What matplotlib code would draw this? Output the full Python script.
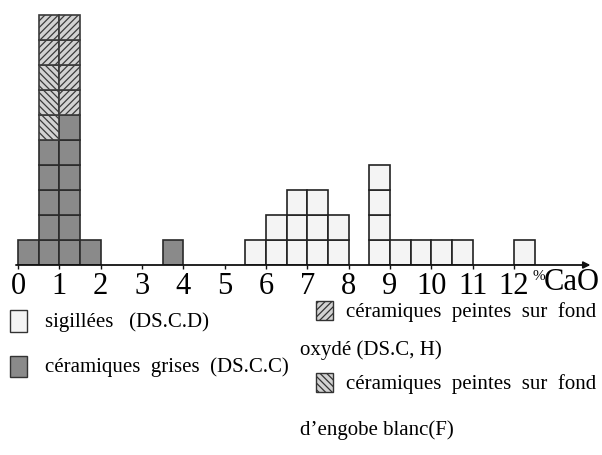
import numpy as np
import matplotlib.pyplot as plt
from matplotlib.patches import Rectangle

plt.rcParams['font.family'] = ['Liberation Serif', 'DejaVu Serif']
plt.rcParams['hatch.linewidth'] = 0.9

# CaO content classes (left edge, %), half-percent wide
bin_left = [0.0, 0.5, 1.0, 1.5, 3.5, 5.5, 6.0, 6.5, 7.0, 7.5, 8.5, 9.0, 9.5, 10.0, 10.5, 12.0]
# number of samples per class, stacked in this order
grises    = [1, 5, 6, 1, 1, 0, 0, 0, 0, 0, 0, 0, 0, 0, 0, 0]
engobe    = [0, 3, 0, 0, 0, 0, 0, 0, 0, 0, 0, 0, 0, 0, 0, 0]
oxyde     = [0, 2, 4, 0, 0, 0, 0, 0, 0, 0, 0, 0, 0, 0, 0, 0]
sigillees = [0, 0, 0, 0, 0, 1, 2, 3, 3, 2, 4, 1, 1, 1, 1, 1]

xticks = list(range(13))

W, H = 602, 456
fig = plt.figure(figsize=(W / 100, H / 100), dpi=100)

# histogram axes: one unit = 41.3 px, one sample = 25 px
x0_px, unit_px, row_px, base_px = 18, 41.33, 25, 266
ax = fig.add_axes([0, (H - base_px) / H, 1, base_px / H])
ax.set_xlim(-x0_px / unit_px, (W - x0_px) / unit_px)
ax.set_ylim(0, base_px / row_px)

dark = '#8a8a8a'
light = '#f4f4f4'
hatched = '#d2d2d2'
styles = [
    (grises, dict(facecolor=dark, edgecolor='#2a2a2a')),
    (engobe, dict(facecolor=hatched, edgecolor='#3a3a3a', hatch='\\\\\\\\\\')),
    (oxyde, dict(facecolor=hatched, edgecolor='#3a3a3a', hatch='/////')),
    (sigillees, dict(facecolor=light, edgecolor='#222222')),
]

bottom = np.zeros(len(bin_left))
for counts, st in styles:
    for i, n in enumerate(counts):
        for k in range(n):
            ax.bar(bin_left[i], 1, width=0.5, bottom=bottom[i] + k, align='edge',
                   linewidth=1.2, **st)
    bottom += np.array(counts)

for s in ax.spines.values():
    s.set_visible(False)
ax.set_yticks([])
ax.set_xticks(xticks)
ax.set_xticklabels([str(t) for t in xticks], fontsize=22)
ax.tick_params(axis='x', length=3, width=1, pad=1, color='#111')

# x axis with arrow
ax.annotate('', xy=(13.85, 0), xytext=(-0.05, 0),
            arrowprops=dict(arrowstyle='-|>', lw=1.3, color='#111',
                            mutation_scale=10, shrinkA=0, shrinkB=0),
            annotation_clip=False)
ax.text(12.45, -0.17, '%', fontsize=11, ha='left', va='top')
ax.text(12.72, -0.1, 'CaO', fontsize=22, ha='left', va='top')

# legend drawn in pixel coordinates
lg = fig.add_axes([0, 0, 1, 1], facecolor='none')
lg.set_xlim(0, W)
lg.set_ylim(H, 0)
lg.axis('off')

def key(x, y, w, h, **kw):
    lg.add_patch(Rectangle((x, y), w, h, linewidth=1.0, **kw))

fs = 15
key(10, 311, 17, 22, facecolor=light, edgecolor='#333')
lg.text(45, 322, 'sigillées   (DS.C.D)', fontsize=fs, va='center')
key(10, 357, 17, 21, facecolor=dark, edgecolor='#333')
lg.text(45, 367, 'céramiques  grises  (DS.C.C)', fontsize=fs, va='center')

key(316, 302, 17, 19, facecolor=hatched, edgecolor='#333', hatch='/////')
lg.text(346, 312, 'céramiques  peintes  sur  fond', fontsize=fs, va='center')
lg.text(300, 350, 'oxydé (DS.C, H)', fontsize=fs, va='center')
key(316, 374, 17, 19, facecolor=hatched, edgecolor='#333', hatch='\\\\\\\\\\')
lg.text(346, 384, 'céramiques  peintes  sur  fond', fontsize=fs, va='center')
lg.text(300, 430, 'd\u2019engobe blanc(F)', fontsize=fs, va='center')

fig.savefig('out.png', dpi=100)
